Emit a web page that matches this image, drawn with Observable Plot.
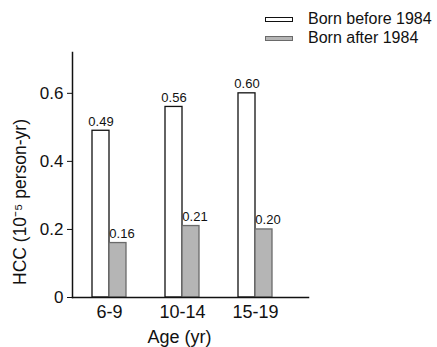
<!DOCTYPE html>
<html>
<head>
<meta charset="utf-8">
<script src="https://cdn.jsdelivr.net/npm/d3@7"></script>
<script src="https://cdn.jsdelivr.net/npm/@observablehq/plot@0.6"></script>
<style>
  body { margin: 0; background: #fff; font-family: "Liberation Sans", Arial, sans-serif; }
  #legend { position: relative; height: 40px; width: 437px; }
  #legend .items { position: absolute; left: 265px; top: 9.5px; }
  #legend .row { display: flex; align-items: center; height: 19px; font-size: 16px; color: #111; white-space: nowrap; }
  #legend .sw { width: 26px; height: 3px; margin-right: 15px; box-sizing: content-box; }
</style>
</head>
<body>
<div id="legend"><div class="items"></div></div>
<div id="chart"></div>
<script>
const ages = ["6-9", "10-14", "15-19"];
const seriesNames = ["Born before 1984", "Born after 1984"];
const bornBefore = [0.49, 0.56, 0.60];
const bornAfter = [0.16, 0.21, 0.20];
const yTicks = [0, 0.2, 0.4, 0.6];
const xTitle = "Age (yr)";
const yTitle = "HCC (10\u207B\u2075 person-yr)";
const seriesFill = ["#ffffff", "#b5b5b5"];
const seriesStroke = ["#111111", "#6a6a6a"];

const before = ages.map((a, i) => ({age: a, series: seriesNames[0], value: bornBefore[i]}));
const after = ages.map((a, i) => ({age: a, series: seriesNames[1], value: bornAfter[i]}));

// legend
const items = document.querySelector("#legend .items");
seriesNames.forEach((s, i) => {
  const r = document.createElement("div");
  r.className = "row";
  const sw = document.createElement("span");
  sw.className = "sw";
  sw.style.background = seriesFill[i];
  sw.style.border = `1px solid ${seriesStroke[i]}`;
  r.appendChild(sw);
  const t = document.createElement("span");
  t.textContent = s;
  r.appendChild(t);
  items.appendChild(r);
});

const font = "'Liberation Sans', Arial, sans-serif";
const half = 17; // half of the group band width

const chart = Plot.plot({
  width: 437,
  height: 307,
  marginTop: 12,
  marginBottom: 50,
  marginLeft: 72,
  marginRight: 129,
  style: {fontFamily: font, fontSize: "18px", color: "#111", background: "transparent", overflow: "visible"},
  x: {domain: ages, paddingInner: 0.537, paddingOuter: 0.374, align: 0.364, axis: null},
  y: {domain: [0, 0.72], axis: null},
  marks: [
    Plot.barY(before, {
      x: "age", y: "value", insetRight: half,
      fill: seriesFill[0], stroke: seriesStroke[0], strokeWidth: 1.3
    }),
    Plot.barY(after, {
      x: "age", y: "value", insetLeft: half,
      fill: seriesFill[1], stroke: seriesStroke[1], strokeWidth: 1.3
    }),
    Plot.text(before, {
      x: "age", y: "value", text: d => d.value.toFixed(2),
      lineAnchor: "bottom", dy: -5, dx: -half / 2, fontSize: 13
    }),
    Plot.text(after, {
      x: "age", y: "value", text: d => d.value.toFixed(2),
      lineAnchor: "bottom", dy: -5, dx: half / 2 + 4, fontSize: 13
    }),
    Plot.frame({anchor: "bottom", stroke: "#111", strokeWidth: 1.5}),
    Plot.frame({anchor: "left", stroke: "#111", strokeWidth: 1.5}),
    Plot.axisY({
      ticks: yTicks, tickSize: 5, tickPadding: 4, fontSize: 17,
      tickFormat: d => d === 0 ? "0" : d.toFixed(1), label: null
    }),
    Plot.axisX({anchor: "bottom", tickSize: 0, tickPadding: 8, fontSize: 18, label: null}),
    Plot.text([yTitle], {
      text: d => d, frameAnchor: "left", rotate: -90, lineAnchor: "top", textAnchor: "middle",
      dx: -59, dy: 27, fontSize: 17.5
    }),
    Plot.text([xTitle], {
      text: d => d, frameAnchor: "bottom", lineAnchor: "top",
      dx: -11, dy: 33, fontSize: 18
    })
  ]
});
document.getElementById("chart").appendChild(chart);
</script>
</body>
</html>
